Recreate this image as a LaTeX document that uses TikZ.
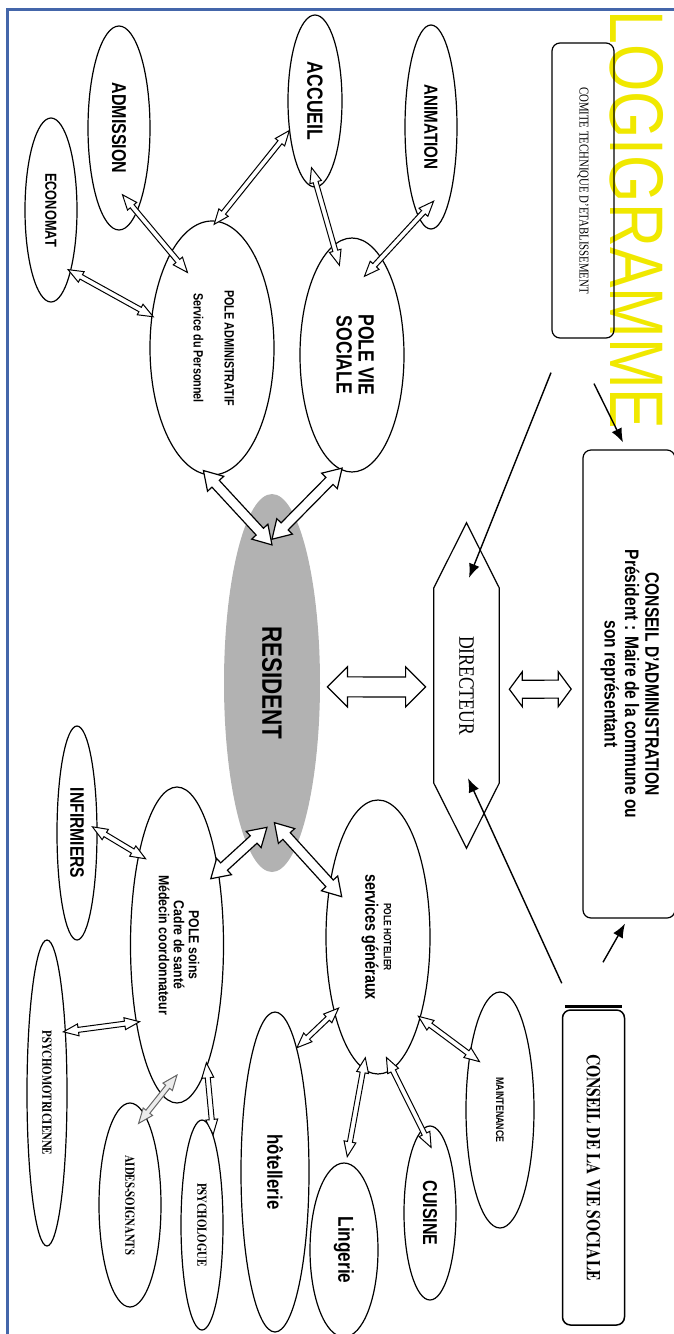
\documentclass[tikz,border=0pt]{standalone}
\usepackage{fontspec}
\setmainfont{Liberation Serif}
\setsansfont{Liberation Sans}
\newfontfamily\timesgras{TeX Gyre Termes}
\usepackage{graphicx}
\usetikzlibrary{shapes.geometric,calc,arrows.meta}

\definecolor{bordbleu}{RGB}{68,102,170}
\definecolor{grisres}{RGB}{178,178,178}
\definecolor{jaunelogo}{RGB}{240,232,0}

\newcommand\taille[2]{\fontsize{#1}{#2}\selectfont}
\newcommand\vtxt[2][.8]{\rotatebox{-90}{\scalebox{#1}[1]{#2}}}
\newcommand\lignes[1]{\begin{tabular}{@{}c@{}}#1\end{tabular}}

% hollow double arrow between two points taken on nodes
\def\flT{2.5pt}\def\flH{6pt}\def\flL{15pt}
\newcommand\fleche[7][]{%
  \coordinate (fa) at ($(#2)!#4!(#2.#3)$);
  \coordinate (fb) at ($(#5)!#7!(#5.#6)$);
  \draw[bloc,#1] (fa) -- ($(fa)!\flL!(fb)!\flH!90:(fb)$) -- ($(fa)!\flL!(fb)!\flT!90:(fb)$)
    -- ($(fb)!\flL!(fa)!\flT!-90:(fa)$) -- ($(fb)!\flL!(fa)!\flH!-90:(fa)$) -- (fb)
    -- ($(fb)!\flL!(fa)!\flH!90:(fa)$) -- ($(fb)!\flL!(fa)!\flT!90:(fa)$)
    -- ($(fa)!\flL!(fb)!\flT!-90:(fb)$) -- ($(fa)!\flL!(fb)!\flH!-90:(fb)$) -- cycle;}

\tikzset{
  bulle/.style 2 args={ellipse, draw, line width=1.2pt, inner sep=0pt, minimum width=#1, minimum height=#2},
  boite/.style 2 args={rectangle, rounded corners=8pt, draw, line width=1.2pt, inner sep=0pt, minimum width=#1, minimum height=#2},
  bloc/.style={draw, fill=white, line width=1pt},
  lien/.style={line width=1.4pt, -{Latex[length=14pt,width=11pt]}},
}

\begin{document}
\begin{tikzpicture}[x=1pt,y=-1pt]
    \useasboundingbox (0,0) rectangle (674,1334);
    \draw[bordbleu, line width=3pt] (7,1334) -- (7,9) -- (674,9);

    \node[text=jaunelogo, font=\taille{76}{76}\sffamily] (logo) at (637,220) {\vtxt[.8]{LOGIGRAMME}};

    % conseils et direction
    \node[boite={62pt}{295pt}, font=\taille{13.5}{15}] (cte) at (583,190.5) {\vtxt{COMITE TECHNIQUE D'ETABLISSEMENT}};
    \node[boite={92pt}{468pt}, font=\taille{19.5}{20}\sffamily\bfseries] (ca) at (629,684)
        {\vtxt{\lignes{CONSEIL D'ADMINISTRATION\\Président : Maire de la commune ou\\son représentant}}};
    \node[boite={62pt}{315pt}, line width=1.5pt, font=\taille{19.5}{20}\timesgras\bfseries] (cvs) at (593.5,1167.5) {\vtxt{CONSEIL DE LA VIE SOCIALE}};
    \draw[line width=3pt] ($(cvs.north west)+(3,-3)$) -- ($(cvs.north east)+(-3,-3)$);
    \node[minimum width=65pt, minimum height=325pt, inner sep=0pt, font=\taille{22}{22}] (dir) at (466.5,685.5) {\vtxt{DIRECTEUR}};
    \draw[line width=1.2pt] (dir.north) -- ($(dir.north east)+(0,65)$) -- ($(dir.south east)+(0,-65)$)
        -- (dir.south) -- ($(dir.south west)+(0,-65)$) -- ($(dir.north west)+(0,65)$) -- cycle;

    \node[ellipse, fill=grisres, inner sep=0pt, minimum width=96pt, minimum height=378pt, font=\taille{28}{28}\sffamily\bfseries] (res) at (272,683) {\vtxt{RESIDENT}};

    % poles du haut
    \node[bulle={52pt}{184pt}, font=\taille{16}{16}\sffamily\bfseries] (econ) at (51,210) {\vtxt{ECONOMAT}};
    \node[bulle={62pt}{204pt}, font=\taille{20}{20}\sffamily\bfseries] (adm) at (119,128) {\vtxt{ADMISSION}};
    \node[bulle={54pt}{172pt}, font=\taille{22}{22}\sffamily\bfseries] (acc) at (315,101) {\vtxt{ACCUEIL}};
    \node[bulle={52pt}{204pt}, font=\taille{19}{19}\sffamily\bfseries] (anim) at (431,127) {\vtxt{ANIMATION}};
    \node[bulle={124pt}{254pt}, font=\taille{13.5}{14}\sffamily\bfseries] (polead) at (212,348)
        {\vtxt{\lignes{POLE ADMINISTRATIF\\[17pt]Service du Personnel}}};
    \node[bulle={104pt}{234pt}, font=\taille{22}{22}\sffamily\bfseries] (polevs) at (352,355) {\vtxt{\lignes{POLE VIE\\SOCIALE}}};

    % poles du bas
    \node[bulle={40pt}{214pt}, font=\taille{19.5}{20}\sffamily\bfseries] (inf) at (77,833) {\vtxt{INFIRMIERS}};
    \node[bulle={93pt}{316pt}, font=\taille{14.5}{14.5}\sffamily\bfseries] (psoins) at (177,945)
        {\vtxt[.85]{\lignes{POLE soins\\Cadre de santé\\Médecin coordonnateur}}};
    \node[bulle={40pt}{306pt}, font=\taille{13.5}{14}\timesgras\bfseries] (psymot) at (47,1093) {\vtxt{PSYCHOMOTRICIENNE}};
    \node[bulle={62pt}{204pt}, font=\taille{13.5}{14}\timesgras\bfseries] (aides) at (130,1205) {\vtxt{AIDES-SOIGNANTS}};
    \node[bulle={42pt}{210pt}, font=\taille{13.5}{14}\timesgras\bfseries] (psycho) at (202,1225) {\vtxt{PSYCHOLOGUE}};
    \node[bulle={104pt}{274pt}, font=\taille{18}{17}\sffamily\bfseries] (phot) at (378,937)
        {\vtxt{\lignes{{\taille{10.5}{10.5}POLE HOTELIER}\\services généraux}}};
    \node[bulle={68pt}{320pt}, font=\taille{21}{21}\sffamily\bfseries] (hotel) at (275,1172) {\vtxt{hôtellerie}};
    \node[bulle={68pt}{174pt}, font=\taille{21.5}{22}\sffamily\bfseries] (ling) at (344,1250) {\vtxt{Lingerie}};
    \node[bulle={52pt}{174pt}, font=\taille{20}{20}\sffamily\bfseries] (cuis) at (430,1213) {\vtxt{CUISINE}};
    \node[bulle={68pt}{236pt}, font=\taille{11}{11}\sffamily\bfseries] (maint) at (500,1110) {\vtxt{MAINTENANCE}};

    % petites fleches
    \fleche{econ}{-74}{.91}{polead}{152}{.97}
    \fleche{adm}{-87}{.66}{polead}{108}{.71}
    \fleche{acc}{-131}{.99}{polead}{89}{.97}
    \fleche{acc}{-93}{.78}{polevs}{98}{.80}
    \fleche{anim}{-88}{.73}{polevs}{81}{.71}
    \fleche{inf}{22}{.75}{psoins}{110}{.86}
    \fleche{psymot}{75}{.89}{psoins}{-116}{.93}
    \fleche[draw=gray!80!black, fill=gray!15]{aides}{84}{.84}{psoins}{-90}{.82}
    \fleche{psycho}{83}{1}{psoins}{-76}{.97}
    \fleche{hotel}{80}{1}{phot}{-119}{.91}
    \fleche{ling}{88}{1.07}{phot}{-96}{.91}
    \fleche{cuis}{89}{.75}{phot}{-86}{.89}
    \fleche{maint}{113}{.72}{phot}{-63}{.96}

    % fleches du resident
    \def\flT{5pt}\def\flH{11pt}\def\flL{18pt}
    \fleche[line width=1.2pt]{polead}{-94}{.97}{res}{90}{.73}
    \fleche[line width=1.2pt]{polevs}{-95}{.98}{res}{90}{.76}
    \fleche[line width=1.2pt]{res}{-92}{.77}{psoins}{63}{.83}
    \fleche[line width=1.2pt]{res}{-89}{.74}{phot}{132}{.75}

    \def\flT{10pt}\def\flH{20pt}\def\flL{20pt}
    \fleche[line width=1.2pt]{res}{-4}{1.15}{dir}{-178}{1.25}
    \def\flT{9pt}\def\flH{17.5pt}\def\flL{13pt}
    \fleche[line width=1.2pt]{dir}{-5}{1.31}{ca}{-175}{1.24}

    % liens
    \draw[lien] ($(cte.south)+(-32,34)$) -- ($(dir.north)+(2.5,55)$);
    \draw[lien] ($(cte.south)+(11,45)$) -- ($(ca.north)+(-6,-7)$);
    \draw[lien] ($(cvs.north west)+(0,-26)$) -- ($(dir.south)+(1.5,-70)$);
    \draw[lien] ($(cvs.north)+(9.5,-47)$) -- ($(ca.south)+(-4,5)$);
\end{tikzpicture}
\end{document}
